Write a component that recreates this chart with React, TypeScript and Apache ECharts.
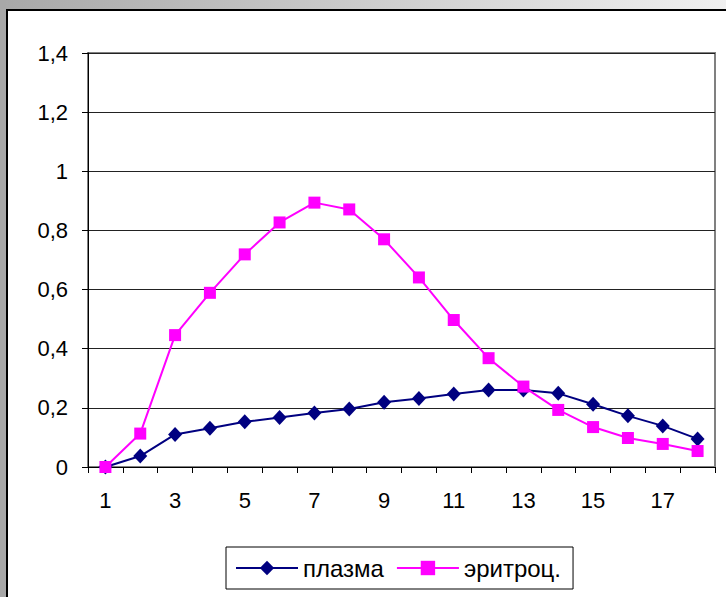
import React, { useEffect, useRef } from "react";
import * as echarts from "echarts";

const categories = ["1","2","3","4","5","6","7","8","9","10","11","12","13","14","15","16","17","18"];
const plasma = [0, 0.037, 0.11, 0.131, 0.153, 0.167, 0.183, 0.196, 0.219, 0.232, 0.247, 0.26, 0.26, 0.249, 0.212, 0.173, 0.139, 0.095];
const erythro = [0, 0.113, 0.446, 0.589, 0.719, 0.827, 0.894, 0.871, 0.77, 0.641, 0.497, 0.368, 0.272, 0.193, 0.135, 0.098, 0.078, 0.054];
const seriesNames = ["плазма", "эритроц."];

export default function App() {
  const ref = useRef<HTMLDivElement>(null);
  useEffect(() => {
    const chart = echarts.init(ref.current!, null, { renderer: "svg" });
    const font = "'Liberation Sans', Arial, sans-serif";
    chart.setOption({
      animation: false,
      backgroundColor: "#fff",
      textStyle: { fontFamily: font },
      graphic: [
        {
          type: "rect",
          shape: { x: 0, y: 0, width: 726, height: 9 },
          style: {
            fill: new echarts.graphic.LinearGradient(0, 0, 1, 0, [
              { offset: 0, color: "#a8a8a8" },
              { offset: 1, color: "#f0f0f0" },
            ]),
          },
          silent: true,
        },
        { type: "rect", shape: { x: 0, y: 0, width: 6, height: 597 }, style: { fill: "#a8a8a8" }, silent: true },
        { type: "line", shape: { x1: 7, y1: 9, x2: 7, y2: 597 }, style: { stroke: "#000", lineWidth: 2 }, silent: true },
        { type: "line", shape: { x1: 6, y1: 10, x2: 726, y2: 10 }, style: { stroke: "#000", lineWidth: 2 }, silent: true },
      ],
      grid: {
        left: 88,
        right: 11,
        top: 53,
        bottom: 130,
        show: true,
        borderColor: "#808080",
        borderWidth: 2,
        backgroundColor: "#fff",
      },
      legend: {
        left: 226,
        top: 547,
        padding: [9, 12, 9, 9],
        borderColor: "#000",
        borderWidth: 1,
        itemGap: 12,
        itemWidth: 62,
        itemHeight: 18,
        textStyle: { fontSize: 24, color: "#000", fontFamily: font },
        data: seriesNames,
      },
      xAxis: {
        type: "category",
        data: categories,
        boundaryGap: true,
        axisLine: { lineStyle: { color: "#000", width: 1 } },
        axisTick: { show: true, interval: 0, length: 6, lineStyle: { color: "#000" } },
        axisLabel: { interval: 1, margin: 22, fontSize: 22, color: "#000", fontFamily: font },
        splitLine: { show: false },
      },
      yAxis: {
        type: "value",
        min: 0,
        max: 1.4,
        interval: 0.2,
        axisLine: { show: true, lineStyle: { color: "#000", width: 1 } },
        axisTick: { show: true, length: 6, lineStyle: { color: "#000" } },
        axisLabel: {
          margin: 20,
          fontSize: 22,
          color: "#000",
          fontFamily: font,
          formatter: (v: number) => String(Math.round(v * 10) / 10).replace(".", ","),
        },
        splitLine: { show: true, lineStyle: { color: "#222", width: 1 } },
      },
      series: [
        {
          name: seriesNames[0],
          type: "line",
          data: plasma,
          symbol: "diamond",
          symbolSize: [14, 15],
          lineStyle: { color: "#000080", width: 2 },
          itemStyle: { color: "#000080" },
          z: 3,
        },
        {
          name: seriesNames[1],
          type: "line",
          data: erythro,
          symbol: "rect",
          symbolSize: 12,
          lineStyle: { color: "#ff00ff", width: 2 },
          itemStyle: { color: "#ff00ff" },
          z: 4,
        },
      ],
    });
    return () => chart.dispose();
  }, []);
  return <div ref={ref} style={{ position: "absolute", left: 0, top: 0, width: 726, height: 597 }} />;
}
